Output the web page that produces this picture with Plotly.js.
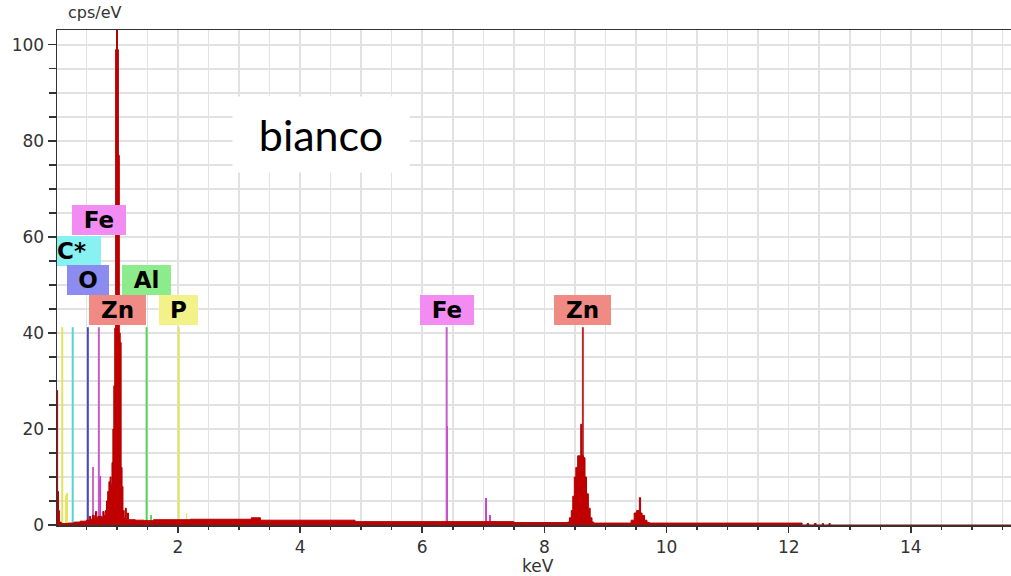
<!DOCTYPE html>
<html><head><meta charset="utf-8">
<script src="https://cdn.plot.ly/plotly-3.0.1.min.js"></script>
<style>html,body{margin:0;padding:0;background:#fff}#c{width:1011px;height:576px}</style>
</head><body><div id="c"></div>
<script>
// ---- data ----
// main spectrum: [keV, cps/eV] step breakpoints
const spectrum = [
 [0.02,28],[0.03,7],[0.045,3],[0.06,0.6],[0.09,0.3],[0.2,0.4],[0.3,0.6],[0.4,0.8],[0.5,1.0],
 [0.55,1.8],[0.57,1.2],[0.6,2.0],[0.63,1.4],[0.65,2.8],[0.67,1.5],[0.69,1.8],[0.75,1.6],[0.77,2.8],
 [0.79,2.0],[0.81,3],[0.83,5],[0.85,7],[0.87,9],[0.89,10],[0.905,8.5],[0.92,13],[0.935,20],[0.95,29],
 [0.965,41],[0.98,99],[0.995,105],[1.01,99],[1.025,77],[1.04,40],[1.055,38],[1.07,12],[1.085,8],
 [1.10,3],[1.12,1.5],[1.14,3.5],[1.155,1.2],[1.175,2.5],[1.19,1.1],[1.3,1.0],[1.45,0.9],[1.6,1.1],
 [2.2,1.2],[3.2,1.5],[3.35,1.0],[4.9,0.7],[7.5,0.5],[8.38,0.6],[8.41,1.5],[8.44,3],[8.465,6],[8.49,10],
 [8.515,12],[8.545,14.4],[8.595,21],[8.61,14.4],[8.64,14],[8.665,10],[8.69,6.5],[8.72,3.5],[8.75,1.5],
 [8.78,0.6],[8.81,0.4],[9.42,1],[9.47,2.5],[9.51,3],[9.555,5.7],[9.575,2.5],[9.6,2],[9.64,1],[9.68,0.5],
 [9.72,0.4],[12.22,0],[12.3,0.3],[12.33,0],[12.42,0.3],[12.45,0],[12.55,0.3],[12.57,0],[12.66,0.3],
 [12.68,0],[15.64,0]
];
// element-coloured peak channels: [keV, cps/eV]
const peaksP  = [[0.16,6.2],[0.18,6.6],[2.01,1.6],[2.14,2.5]];
const peaksFe = [[0.614,12],[0.724,10.3],[6.40,20.7],[7.045,5.7],[7.11,2.0],[7.19,0.8]];
const peaksAl = [[1.49,1.2],[1.565,2.0]];
// element line markers
const markerEnergy = [0.106, 0.277, 0.525, 0.705, 1.012, 1.487, 2.013, 6.40, 8.63];
const markerElem   = ['P', 'C*', 'O', 'Fe', 'Zn', 'Al', 'P', 'Fe', 'Zn'];
const markerHeight = 41.2;
// labels (element, energy)
const labelElem   = ['Fe', 'C*', 'O', 'Al', 'Zn', 'P', 'Fe', 'Zn'];
const labelEnergy = [0.705, 0.277, 0.525, 1.487, 1.012, 2.013, 6.40, 8.63];
const sampleName = 'bianco';

// ---- styles ----
const lineCol = {'P':'#e2e25c','C*':'#55d4d4','O':'#4848c4','Fe':'#c25ec6','Zn':'#c02828','Al':'#55d455'};
const boxCol  = {'P':'#f2f288','C*':'#88f2f2','O':'#8c8cf0','Fe':'#f28cf2','Zn':'#f08a84','Al':'#8cec8c'};
// label placement (box bottom in cps/eV, box width px)
const labelPlace = [[60.4,54],[54.0,44],[47.9,42],[47.9,49],[41.6,57],[41.6,39],[41.6,54],[41.6,57]];

const traces = [];
markerEnergy.forEach((e,i)=>{
  traces.push({type:'scatter',mode:'lines',x:[e,e],y:[0,markerHeight],
    line:{color:lineCol[markerElem[i]],width:2},hoverinfo:'skip',showlegend:false});
});
traces.push({type:'scatter',mode:'lines',x:spectrum.map(p=>p[0]),y:spectrum.map(p=>p[1]),
  line:{shape:'hv',color:'#b00000',width:1},fill:'tozeroy',fillcolor:'#c00000',showlegend:false});
function bars(arr,colors){
  return {type:'bar',x:arr.map(p=>p[0]),y:arr.map(p=>p[1]),width:0.03,
    marker:{color:colors,line:{width:0}},showlegend:false};
}
traces.push(bars(peaksP,'#e6e65a'));
traces.push(bars(peaksFe,['#c86ac8','#ee22ee','#ee22ee','#cc44cc','#cc44cc','#cc44cc']));
traces.push(bars(peaksAl,'#5cd65c'));

const annotations = [];
labelElem.forEach((el,i)=>{
  const isC = el==='C*';
  annotations.push({xref:'x',yref:'y',x:isC?0.02:labelEnergy[i],y:labelPlace[i][0],
    xanchor:isC?'left':'center',yanchor:'bottom',showarrow:false,text:el,
    align:isC?'left':'center',
    font:{family:'DejaVu Sans',size:23,color:'#000',weight:700},
    bgcolor:boxCol[el],width:labelPlace[i][1],height:30,borderpad:0,borderwidth:0});
});
annotations.push({xref:'paper',yref:'paper',x:0.2772,y:0.789,xanchor:'center',yanchor:'middle',
  showarrow:false,text:sampleName,font:{family:'Lato',size:43,color:'#000'},
  bgcolor:'#ffffff',width:176,height:75,borderpad:0});
annotations.push({xref:'paper',yref:'paper',x:0.0395,y:1.012,xanchor:'center',yanchor:'bottom',
  showarrow:false,text:'cps/eV',font:{family:'DejaVu Sans',size:16,color:'#333'}});
annotations.push({xref:'paper',yref:'paper',x:0.504,y:-0.083,xanchor:'center',yanchor:'middle',
  showarrow:false,text:'keV',font:{family:'DejaVu Sans',size:17,color:'#333'}});

const grid = '#e2e2e2';
const layout = {
  width:1011,height:576,margin:{l:57,r:0,t:30,b:51},
  paper_bgcolor:'#fff',plot_bgcolor:'#fff',showlegend:false,bargap:0,barmode:'overlay',
  xaxis:{range:[0.02,15.64],tick0:0,dtick:2,ticks:'outside',ticklen:6,tickwidth:1.5,tickcolor:'#333',
    showgrid:true,gridcolor:grid,gridwidth:1.5,zeroline:false,showline:true,linecolor:'#333',linewidth:1.5,
    mirror:true,tickfont:{family:'DejaVu Sans',size:17,color:'#333'},
    minor:{dtick:0.5,tick0:0,ticks:'outside',ticklen:3,tickcolor:'#333',tickwidth:1.5,showgrid:true,gridcolor:grid,gridwidth:1.5}},
  yaxis:{range:[0,103.1],tick0:0,dtick:20,ticks:'outside',ticklen:8,tickwidth:1.2,tickcolor:'#333',
    showgrid:true,gridcolor:grid,gridwidth:1.5,zeroline:false,showline:true,linecolor:'#333',linewidth:1.5,
    tickfont:{family:'DejaVu Sans',size:17,color:'#333'},
    minor:{dtick:5,tick0:0,ticks:'outside',ticklen:7,tickcolor:'#333',tickwidth:1.2,showgrid:true,gridcolor:grid,gridwidth:1.5}},
  annotations:annotations
};
Plotly.newPlot('c',traces,layout,{staticPlot:true,displayModeBar:false});
</script></body></html>
